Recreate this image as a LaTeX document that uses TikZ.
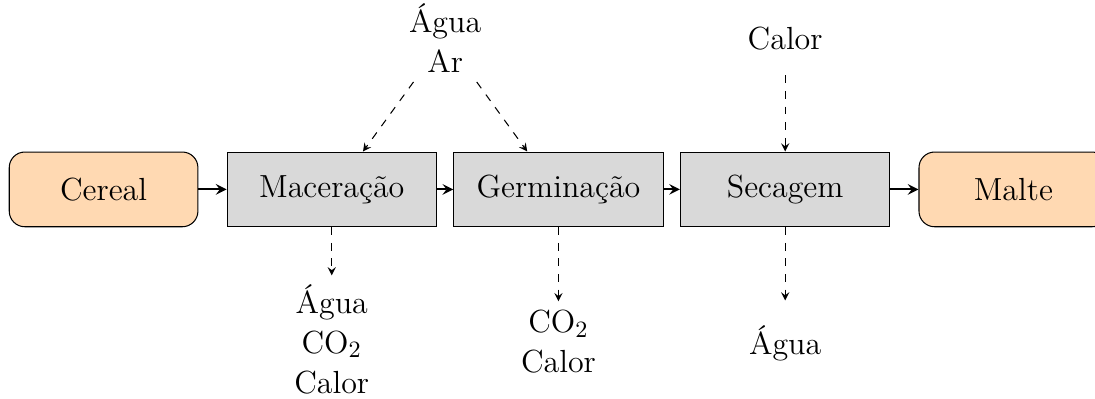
\documentclass[tikz,border=0pt]{standalone}
\usepackage{tikz}
\usetikzlibrary{positioning, calc, arrows.meta}
\tikzset{>=stealth}

\begin{document}
\begin{tikzpicture}[
    font = \fontsize{12.3}{15.3}\selectfont,
    ext/.style = {draw, rounded corners = 6pt, fill = orange!30, minimum width = 2.55cm, minimum height = 1.01cm},
    proc/.style = {draw, fill = gray!30, minimum width = 2.83cm, minimum height = 1.01cm},
    flx/.style = {align = center},
    d0/.style = {->, thick},
    d1/.style = {->, dashed}
]
\useasboundingbox (-1.40,-2.82) rectangle (13.40, 2.56);

\node[ext] (cereal) at (0,0) {Cereal};
\node[proc, right = 0.38cm of cereal] (mac) {Maceração};
\node[proc, right = 0.22cm of mac] (germ) {Germinação};
\node[proc, right = 0.22cm of germ] (sec) {Secagem};
\node[ext, right = 0.38cm of sec] (malte) {Malte};

\draw[d0] (cereal) -- (mac);
\draw[d0] (mac) -- (germ);
\draw[d0] (germ) -- (sec);
\draw[d0] (sec) -- (malte);

% entradas
\coordinate (meio) at ($(mac.north east)!0.5!(germ.north west)$);
\node[flx, above = 0.94cm of meio] (entar) {Água\\Ar};
\node[flx, above = 1.24cm of sec] (entcal) {Calor};
\draw[d1] (entar) -- ([xshift=-1cm]mac.north east);
\draw[d1] (entar) -- ([xshift=1cm]germ.north west);
\draw[d1, shorten <= 6pt] (entcal) -- (sec);

% saidas
\node[flx, below = 0.65cm of mac] (saimac) {Água\\CO$_2$\\Calor};
\node[flx, below = 1.0cm of germ] (saigerm) {CO$_2$\\Calor};
\node[flx, below = 1.2cm of sec] (saisec) {Água};
\draw[d1] (mac) -- (saimac);
\draw[d1] (germ) -- (saigerm);
\draw[d1, shorten >= 6pt] (sec) -- (saisec);
\end{tikzpicture}
\end{document}
